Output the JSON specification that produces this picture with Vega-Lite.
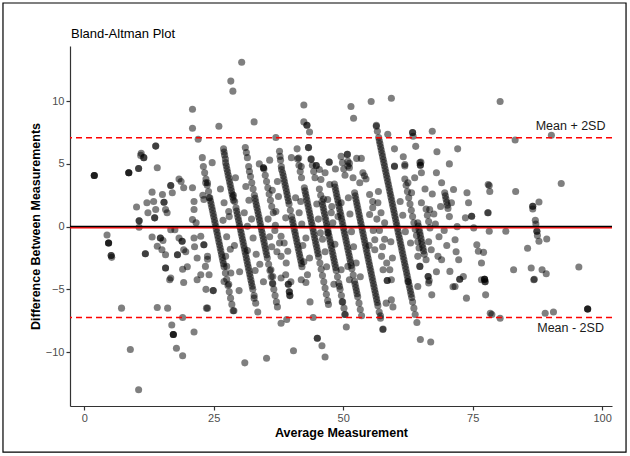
{
 "$schema": "https://vega.github.io/schema/vega-lite/v6.json",
 "width": 542,
 "height": 360,
 "autosize": {"type": "none"},
 "padding": {"left": 70, "top": 46, "right": 18, "bottom": 50},
 "background": "white",
 "title": {"text": "Bland-Altman Plot", "anchor": "start", "frame": "group", "font": "Liberation Sans", "fontSize": 13, "fontWeight": "normal", "color": "#000000", "offset": -39, "dx": 1},
 "config": {"view": {"stroke": null}, "font": "Liberation Sans"},
 "layer": [
  {
   "data": {"values": [{"name": "frame"}]},
   "mark": {"type": "rect", "fill": null, "stroke": "#000000", "strokeWidth": 1.2},
   "encoding": {
    "x": {"datum": -15.69, "type": "quantitative", "scale": {"domain": [-2.75, 101.9]}},
    "x2": {"datum": 104.61},
    "y": {"datum": 17.83, "type": "quantitative", "scale": {"domain": [-14.3, 14.4]}},
    "y2": {"datum": -17.97}
   }
  },
  {
   "data": {"values": [
{"avg":23.0,"diff":4.8},{"avg":23.25,"diff":4.3},{"avg":23.5,"diff":3.8},{"avg":23.75,"diff":3.3},{"avg":24.0,"diff":2.8},{"avg":24.25,"diff":2.3},{"avg":24.38,"diff":2.05},{"avg":24.5,"diff":1.8},{"avg":24.63,"diff":1.55},{"avg":24.75,"diff":1.3},{"avg":24.88,"diff":1.05},{"avg":25.0,"diff":0.8},{"avg":25.13,"diff":0.55},{"avg":25.25,"diff":0.3},{"avg":25.38,"diff":0.05},{"avg":25.5,"diff":-0.2},{"avg":25.63,"diff":-0.45},{"avg":25.75,"diff":-0.7},{"avg":25.88,"diff":-0.95},{"avg":26.0,"diff":-1.2},{"avg":26.13,"diff":-1.45},{"avg":26.25,"diff":-1.7},{"avg":26.38,"diff":-1.95},{"avg":26.5,"diff":-2.2},{"avg":26.63,"diff":-2.45},{"avg":26.75,"diff":-2.7},{"avg":26.88,"diff":-2.95},{"avg":27.0,"diff":-3.2},{"avg":27.25,"diff":-3.7},{"avg":27.5,"diff":-4.2},{"avg":27.75,"diff":-4.7},{"avg":28.0,"diff":-5.2},{"avg":28.25,"diff":-5.7},{"avg":28.5,"diff":-6.2},{"avg":28.75,"diff":-6.7},
{"avg":27.3,"diff":5.1},{"avg":27.43,"diff":4.85},{"avg":27.55,"diff":4.6},{"avg":27.68,"diff":4.35},{"avg":27.8,"diff":4.1},{"avg":27.93,"diff":3.85},{"avg":28.05,"diff":3.6},{"avg":28.18,"diff":3.35},{"avg":28.3,"diff":3.1},{"avg":28.43,"diff":2.85},{"avg":28.55,"diff":2.6},{"avg":28.68,"diff":2.35},{"avg":28.8,"diff":2.1},
{"avg":28.8,"diff":2.5},{"avg":29.05,"diff":2.0},{"avg":29.3,"diff":1.5},{"avg":29.43,"diff":1.25},{"avg":29.55,"diff":1.0},{"avg":29.68,"diff":0.75},{"avg":29.8,"diff":0.5},{"avg":29.93,"diff":0.25},{"avg":30.05,"diff":0.0},{"avg":30.18,"diff":-0.25},{"avg":30.3,"diff":-0.5},{"avg":30.43,"diff":-0.75},{"avg":30.55,"diff":-1.0},{"avg":30.68,"diff":-1.25},{"avg":30.8,"diff":-1.5},{"avg":30.93,"diff":-1.75},{"avg":31.05,"diff":-2.0},{"avg":31.18,"diff":-2.25},{"avg":31.3,"diff":-2.5},{"avg":31.43,"diff":-2.75},{"avg":31.55,"diff":-3.0},{"avg":31.68,"diff":-3.25},{"avg":31.8,"diff":-3.5},{"avg":31.93,"diff":-3.75},{"avg":32.05,"diff":-4.0},{"avg":32.18,"diff":-4.25},{"avg":32.3,"diff":-4.5},{"avg":32.43,"diff":-4.75},{"avg":32.55,"diff":-5.0},{"avg":32.8,"diff":-5.5},{"avg":33.1,"diff":-6.1},
{"avg":32.1,"diff":4.0},{"avg":32.35,"diff":3.5},{"avg":32.6,"diff":3.0},{"avg":32.85,"diff":2.5},{"avg":32.98,"diff":2.25},{"avg":33.1,"diff":2.0},{"avg":33.23,"diff":1.75},{"avg":33.35,"diff":1.5},{"avg":33.48,"diff":1.25},{"avg":33.6,"diff":1.0},{"avg":33.73,"diff":0.75},{"avg":33.85,"diff":0.5},{"avg":33.98,"diff":0.25},{"avg":34.1,"diff":0.0},{"avg":34.23,"diff":-0.25},{"avg":34.35,"diff":-0.5},{"avg":34.48,"diff":-0.75},{"avg":34.6,"diff":-1.0},{"avg":34.73,"diff":-1.25},{"avg":34.85,"diff":-1.5},{"avg":34.98,"diff":-1.75},{"avg":35.1,"diff":-2.0},{"avg":35.23,"diff":-2.25},{"avg":35.35,"diff":-2.5},{"avg":35.6,"diff":-3.0},{"avg":35.85,"diff":-3.5},{"avg":36.1,"diff":-4.0},{"avg":36.35,"diff":-4.5},{"avg":36.6,"diff":-5.0},{"avg":36.85,"diff":-5.5},{"avg":37.1,"diff":-6.0},{"avg":37.3,"diff":-6.4},
{"avg":34.7,"diff":4.6},{"avg":34.95,"diff":4.1},{"avg":35.2,"diff":3.6},{"avg":35.45,"diff":3.1},{"avg":35.7,"diff":2.6},{"avg":35.95,"diff":2.1},{"avg":36.2,"diff":1.6},
{"avg":38.3,"diff":4.3},{"avg":38.43,"diff":4.05},{"avg":38.55,"diff":3.8},{"avg":38.68,"diff":3.55},{"avg":38.8,"diff":3.3},{"avg":38.93,"diff":3.05},{"avg":39.05,"diff":2.8},{"avg":39.18,"diff":2.55},{"avg":39.3,"diff":2.3},{"avg":39.43,"diff":2.05},{"avg":39.55,"diff":1.8},{"avg":39.8,"diff":1.3},{"avg":40.05,"diff":0.8},{"avg":40.18,"diff":0.55},{"avg":40.3,"diff":0.3},{"avg":40.43,"diff":0.05},{"avg":40.55,"diff":-0.2},{"avg":40.68,"diff":-0.45},{"avg":40.8,"diff":-0.7},{"avg":40.93,"diff":-0.95},{"avg":41.05,"diff":-1.2},{"avg":41.18,"diff":-1.45},{"avg":41.3,"diff":-1.7},{"avg":41.43,"diff":-1.95},{"avg":41.55,"diff":-2.2},{"avg":41.68,"diff":-2.45},{"avg":41.8,"diff":-2.7},{"avg":41.93,"diff":-2.95},{"avg":42.05,"diff":-3.2},
{"avg":41.2,"diff":5.4},{"avg":41.45,"diff":4.9},{"avg":41.7,"diff":4.4},{"avg":41.95,"diff":3.9},
{"avg":42.5,"diff":3.1},{"avg":42.63,"diff":2.85},{"avg":42.75,"diff":2.6},{"avg":42.88,"diff":2.35},{"avg":43.0,"diff":2.1},{"avg":43.13,"diff":1.85},{"avg":43.25,"diff":1.6},{"avg":43.38,"diff":1.35},{"avg":43.5,"diff":1.1},{"avg":43.63,"diff":0.85},{"avg":43.75,"diff":0.6},{"avg":43.88,"diff":0.35},{"avg":44.0,"diff":0.1},{"avg":44.13,"diff":-0.15},{"avg":44.25,"diff":-0.4},{"avg":44.38,"diff":-0.65},{"avg":44.5,"diff":-0.9},{"avg":44.63,"diff":-1.15},{"avg":44.75,"diff":-1.4},{"avg":44.88,"diff":-1.65},{"avg":45.0,"diff":-1.9},{"avg":45.13,"diff":-2.15},{"avg":45.25,"diff":-2.4},{"avg":45.5,"diff":-2.9},{"avg":45.75,"diff":-3.4},{"avg":46.0,"diff":-3.9},{"avg":46.25,"diff":-4.4},{"avg":46.5,"diff":-4.9},{"avg":46.75,"diff":-5.4},{"avg":47.0,"diff":-5.9},{"avg":47.15,"diff":-6.2},
{"avg":43.8,"diff":5.4},{"avg":44.05,"diff":4.9},{"avg":44.3,"diff":4.4},{"avg":44.55,"diff":3.9},
{"avg":45.4,"diff":3.0},{"avg":45.65,"diff":2.5},{"avg":45.9,"diff":2.0},{"avg":46.03,"diff":1.75},{"avg":46.15,"diff":1.5},{"avg":46.28,"diff":1.25},{"avg":46.4,"diff":1.0},{"avg":46.53,"diff":0.75},{"avg":46.65,"diff":0.5},{"avg":46.78,"diff":0.25},{"avg":46.9,"diff":0.0},{"avg":47.03,"diff":-0.25},{"avg":47.15,"diff":-0.5},{"avg":47.28,"diff":-0.75},{"avg":47.4,"diff":-1.0},{"avg":47.53,"diff":-1.25},{"avg":47.65,"diff":-1.5},{"avg":47.78,"diff":-1.75},{"avg":47.9,"diff":-2.0},{"avg":48.03,"diff":-2.25},{"avg":48.15,"diff":-2.5},{"avg":48.28,"diff":-2.75},{"avg":48.4,"diff":-3.0},{"avg":48.53,"diff":-3.25},{"avg":48.65,"diff":-3.5},{"avg":48.9,"diff":-4.0},{"avg":49.15,"diff":-4.5},{"avg":49.28,"diff":-4.75},{"avg":49.4,"diff":-5.0},{"avg":49.65,"diff":-5.5},{"avg":49.9,"diff":-6.0},{"avg":50.15,"diff":-6.5},{"avg":50.4,"diff":-7.0},
{"avg":48.3,"diff":3.4},{"avg":48.43,"diff":3.15},{"avg":48.55,"diff":2.9},{"avg":48.68,"diff":2.65},{"avg":48.8,"diff":2.4},{"avg":48.93,"diff":2.15},{"avg":49.05,"diff":1.9},{"avg":49.18,"diff":1.65},{"avg":49.3,"diff":1.4},{"avg":49.43,"diff":1.15},{"avg":49.55,"diff":0.9},{"avg":49.68,"diff":0.65},{"avg":49.8,"diff":0.4},{"avg":49.93,"diff":0.15},{"avg":50.05,"diff":-0.1},{"avg":50.18,"diff":-0.35},{"avg":50.3,"diff":-0.6},{"avg":50.43,"diff":-0.85},{"avg":50.55,"diff":-1.1},{"avg":50.68,"diff":-1.35},{"avg":50.8,"diff":-1.6},{"avg":50.93,"diff":-1.85},{"avg":51.05,"diff":-2.1},{"avg":51.18,"diff":-2.35},{"avg":51.3,"diff":-2.6},{"avg":51.43,"diff":-2.85},{"avg":51.55,"diff":-3.1},{"avg":51.68,"diff":-3.35},{"avg":51.93,"diff":-3.85},{"avg":52.18,"diff":-4.35},{"avg":52.3,"diff":-4.6},{"avg":52.43,"diff":-4.85},{"avg":52.55,"diff":-5.1},{"avg":52.68,"diff":-5.35},{"avg":52.8,"diff":-5.6},{"avg":53.05,"diff":-6.1},{"avg":53.3,"diff":-6.6},{"avg":53.55,"diff":-7.1},
{"avg":49.6,"diff":5.6},{"avg":49.85,"diff":5.1},{"avg":50.1,"diff":4.6},{"avg":50.35,"diff":4.1},
{"avg":52.2,"diff":2.7},{"avg":52.33,"diff":2.45},{"avg":52.45,"diff":2.2},{"avg":52.58,"diff":1.95},{"avg":52.7,"diff":1.7},{"avg":52.83,"diff":1.45},{"avg":52.95,"diff":1.2},{"avg":53.08,"diff":0.95},{"avg":53.2,"diff":0.7},{"avg":53.33,"diff":0.45},{"avg":53.45,"diff":0.2},{"avg":53.58,"diff":-0.05},{"avg":53.7,"diff":-0.3},{"avg":53.83,"diff":-0.55},{"avg":53.95,"diff":-0.8},{"avg":54.08,"diff":-1.05},{"avg":54.2,"diff":-1.3},{"avg":54.33,"diff":-1.55},{"avg":54.45,"diff":-1.8},{"avg":54.58,"diff":-2.05},{"avg":54.7,"diff":-2.3},{"avg":54.83,"diff":-2.55},{"avg":54.95,"diff":-2.8},{"avg":55.08,"diff":-3.05},{"avg":55.2,"diff":-3.3},{"avg":55.33,"diff":-3.55},{"avg":55.45,"diff":-3.8},{"avg":55.58,"diff":-4.05},{"avg":55.7,"diff":-4.3},{"avg":55.83,"diff":-4.55},{"avg":55.95,"diff":-4.8},{"avg":56.08,"diff":-5.05},{"avg":56.2,"diff":-5.3},{"avg":56.33,"diff":-5.55},{"avg":56.45,"diff":-5.8},{"avg":56.58,"diff":-6.05},{"avg":56.7,"diff":-6.3},{"avg":56.95,"diff":-6.8},{"avg":57.2,"diff":-7.3},{"avg":57.65,"diff":-8.2},
{"avg":56.4,"diff":8.0},{"avg":56.6,"diff":7.6},{"avg":56.85,"diff":7.1},{"avg":56.98,"diff":6.85},{"avg":57.1,"diff":6.6},{"avg":57.23,"diff":6.35},{"avg":57.35,"diff":6.1},{"avg":57.48,"diff":5.85},{"avg":57.6,"diff":5.6},{"avg":57.73,"diff":5.35},{"avg":57.85,"diff":5.1},{"avg":57.98,"diff":4.85},{"avg":58.1,"diff":4.6},{"avg":58.23,"diff":4.35},{"avg":58.35,"diff":4.1},{"avg":58.48,"diff":3.85},{"avg":58.6,"diff":3.6},{"avg":58.73,"diff":3.35},{"avg":58.85,"diff":3.1},{"avg":58.98,"diff":2.85},{"avg":59.1,"diff":2.6},{"avg":59.23,"diff":2.35},{"avg":59.35,"diff":2.1},{"avg":59.48,"diff":1.85},{"avg":59.6,"diff":1.6},{"avg":59.73,"diff":1.35},{"avg":59.85,"diff":1.1},{"avg":59.98,"diff":0.85},{"avg":60.1,"diff":0.6},{"avg":60.23,"diff":0.35},{"avg":60.35,"diff":0.1},{"avg":60.48,"diff":-0.15},{"avg":60.6,"diff":-0.4},{"avg":60.73,"diff":-0.65},{"avg":60.85,"diff":-0.9},{"avg":60.98,"diff":-1.15},{"avg":61.1,"diff":-1.4},{"avg":61.23,"diff":-1.65},{"avg":61.35,"diff":-1.9},{"avg":61.48,"diff":-2.15},{"avg":61.6,"diff":-2.4},{"avg":61.73,"diff":-2.65},{"avg":61.85,"diff":-2.9},{"avg":61.98,"diff":-3.15},{"avg":62.1,"diff":-3.4},{"avg":62.23,"diff":-3.65},{"avg":62.35,"diff":-3.9},{"avg":62.48,"diff":-4.15},{"avg":62.6,"diff":-4.4},{"avg":62.73,"diff":-4.65},{"avg":62.85,"diff":-4.9},{"avg":62.98,"diff":-5.15},{"avg":63.1,"diff":-5.4},{"avg":63.23,"diff":-5.65},{"avg":63.4,"diff":-6.0},{"avg":63.65,"diff":-6.5},{"avg":63.9,"diff":-7.0},{"avg":64.23,"diff":-7.65},
{"avg":61.9,"diff":3.8},{"avg":62.15,"diff":3.3},{"avg":62.4,"diff":2.8},{"avg":62.65,"diff":2.3},{"avg":62.9,"diff":1.8},{"avg":63.15,"diff":1.3},{"avg":63.4,"diff":0.8},{"avg":63.65,"diff":0.3},{"avg":63.9,"diff":-0.2},{"avg":64.15,"diff":-0.7},{"avg":64.4,"diff":-1.2},{"avg":64.65,"diff":-1.7},
{"avg":64.4,"diff":0.3},{"avg":64.53,"diff":0.05},{"avg":64.65,"diff":-0.2},{"avg":64.78,"diff":-0.45},{"avg":64.9,"diff":-0.7},{"avg":65.03,"diff":-0.95},{"avg":65.15,"diff":-1.2},{"avg":65.28,"diff":-1.45},{"avg":65.4,"diff":-1.7},{"avg":65.53,"diff":-1.95},{"avg":65.65,"diff":-2.2},
{"avg":66.0,"diff":1.4},{"avg":66.25,"diff":0.9},{"avg":66.5,"diff":0.4},{"avg":66.75,"diff":-0.1},
{"avg":69.6,"diff":2.7},{"avg":69.73,"diff":2.45},{"avg":69.85,"diff":2.2},{"avg":69.98,"diff":1.95},{"avg":70.1,"diff":1.7},{"avg":70.23,"diff":1.45},
{"avg":26.9,"diff":6.2},{"avg":27.0,"diff":5.95},{"avg":27.1,"diff":5.7},{"avg":27.25,"diff":5.4},
{"avg":31.1,"diff":6.3},{"avg":31.3,"diff":5.9},{"avg":31.5,"diff":5.5},{"avg":31.75,"diff":4.8},{"avg":31.9,"diff":4.4},
{"avg":37.7,"diff":6.0},{"avg":37.8,"diff":5.6},{"avg":37.9,"diff":5.3},{"avg":38.05,"diff":4.8},{"avg":38.1,"diff":4.55},
{"avg":53.8,"diff":4.3},{"avg":54.1,"diff":4.05},{"avg":54.4,"diff":3.8},
{"avg":20.9,"diff":9.36},{"avg":20.9,"diff":7.84},{"avg":22.0,"diff":6.96},{"avg":13.8,"diff":6.42},{"avg":13.8,"diff":6.42},{"avg":11.0,"diff":5.84},
{"avg":30.4,"diff":13.1},{"avg":28.3,"diff":11.6},{"avg":28.7,"diff":10.8},{"avg":26.0,"diff":8.0},{"avg":32.8,"diff":8.35},{"avg":37.0,"diff":7.1},{"avg":42.4,"diff":9.7},{"avg":42.4,"diff":8.35},{"avg":43.0,"diff":8.08},{"avg":43.0,"diff":8.08},{"avg":43.5,"diff":7.55},{"avg":51.5,"diff":9.57},{"avg":52.0,"diff":8.64},{"avg":55.4,"diff":9.98},{"avg":59.3,"diff":10.24},{"avg":56.4,"diff":8.08},{"avg":58.6,"diff":7.36},{"avg":63.4,"diff":7.5},{"avg":63.4,"diff":7.5},{"avg":63.5,"diff":7.2},{"avg":67.2,"diff":7.6},{"avg":59.9,"diff":6.2},{"avg":64.0,"diff":6.4},{"avg":68.1,"diff":5.97},{"avg":72.1,"diff":6.2},{"avg":61.6,"diff":5.57},{"avg":61.9,"diff":4.96},{"avg":59.9,"diff":4.8},{"avg":65.0,"diff":5.14},{"avg":64.9,"diff":4.9},{"avg":64.9,"diff":4.9},{"avg":50.8,"diff":5.76},{"avg":50.8,"diff":5.76},{"avg":52.6,"diff":5.44},{"avg":53.5,"diff":5.44},{"avg":51.2,"diff":5.04},{"avg":80.3,"diff":9.98},{"avg":83.2,"diff":6.9},{"avg":90.2,"diff":7.28},
{"avg":22.8,"diff":5.5},{"avg":24.7,"diff":5.1},{"avg":34.6,"diff":4.7},{"avg":34.6,"diff":4.7},{"avg":41.1,"diff":6.2},{"avg":41.4,"diff":5.47},{"avg":41.9,"diff":4.8},{"avg":43.3,"diff":6.3},{"avg":43.3,"diff":6.3},{"avg":43.8,"diff":5.36},{"avg":44.8,"diff":4.88},{"avg":44.8,"diff":4.88},{"avg":47.3,"diff":5.14},{"avg":47.3,"diff":5.14},
{"avg":1.94,"diff":4.08},{"avg":1.94,"diff":4.08},{"avg":1.94,"diff":4.08},{"avg":8.6,"diff":4.3},{"avg":8.6,"diff":4.3},{"avg":8.6,"diff":4.3},{"avg":10.5,"diff":4.64},{"avg":10.5,"diff":4.64},{"avg":11.5,"diff":5.5},{"avg":11.5,"diff":5.5},{"avg":10.9,"diff":5.68},{"avg":14.1,"diff":4.7},{"avg":4.4,"diff":-0.67},{"avg":4.7,"diff":-1.3},{"avg":4.7,"diff":-1.3},{"avg":4.7,"diff":-1.3},{"avg":5.2,"diff":-2.3},{"avg":5.2,"diff":-2.3},{"avg":5.3,"diff":-2.45},{"avg":10.1,"diff":1.57},{"avg":10.6,"diff":0.46},{"avg":10.6,"diff":0.46},{"avg":10.6,"diff":-0.05},{"avg":11.8,"diff":-2.16},{"avg":11.8,"diff":-2.16},{"avg":13.1,"diff":2.75},{"avg":12.1,"diff":1.9},{"avg":13.4,"diff":2.0},{"avg":12.3,"diff":1.1},{"avg":13.8,"diff":1.36},{"avg":13.6,"diff":0.7},{"avg":13.6,"diff":0.7},{"avg":15.1,"diff":2.56},{"avg":15.4,"diff":1.94},{"avg":15.4,"diff":1.94},{"avg":15.7,"diff":1.36},{"avg":16.0,"diff":1.1},{"avg":16.7,"diff":3.28},{"avg":16.7,"diff":3.28},{"avg":17.0,"diff":2.7},{"avg":18.3,"diff":3.8},{"avg":18.7,"diff":3.6},{"avg":19.2,"diff":3.1},{"avg":20.9,"diff":3.1},{"avg":21.2,"diff":2.0},{"avg":21.2,"diff":1.36},{"avg":20.9,"diff":0.56},{"avg":21.6,"diff":0.3},{"avg":23.8,"diff":3.5},{"avg":24.1,"diff":2.3},{"avg":22.9,"diff":2.5},
{"avg":13.1,"diff":-0.83},{"avg":14.7,"diff":-0.9},{"avg":14.7,"diff":-0.9},{"avg":15.2,"diff":-1.1},{"avg":14.1,"diff":-1.57},{"avg":15.0,"diff":-1.84},{"avg":15.7,"diff":-2.24},{"avg":16.7,"diff":-0.24},{"avg":17.5,"diff":-0.24},{"avg":18.3,"diff":-0.9},{"avg":18.9,"diff":-1.17},{"avg":18.9,"diff":-1.17},{"avg":19.2,"diff":-1.84},{"avg":18.0,"diff":-2.24},{"avg":18.0,"diff":-2.24},{"avg":19.6,"diff":-2.0},{"avg":21.2,"diff":-0.9},{"avg":21.3,"diff":-1.6},{"avg":23.1,"diff":-1.44},{"avg":23.1,"diff":-1.44},{"avg":21.8,"diff":-2.5},{"avg":19.9,"diff":-3.2},{"avg":19.0,"diff":-3.4},{"avg":15.7,"diff":-3.3},{"avg":15.7,"diff":-3.3},{"avg":16.7,"diff":-4.1},{"avg":23.8,"diff":-2.6},{"avg":22.5,"diff":-3.84},{"avg":16.5,"diff":-4.24},{"avg":19.2,"diff":-4.45},{"avg":21.8,"diff":-4.24},{"avg":23.5,"diff":-5.0},
{"avg":7.2,"diff":-6.5},{"avg":14.1,"diff":-6.45},{"avg":16.1,"diff":-6.5},{"avg":19.0,"diff":-7.25},{"avg":23.8,"diff":-6.5},{"avg":16.9,"diff":-7.84},{"avg":17.2,"diff":-8.6},{"avg":17.2,"diff":-8.6},{"avg":17.2,"diff":-8.6},{"avg":21.2,"diff":-8.4},{"avg":17.8,"diff":-9.7},{"avg":19.0,"diff":-10.3},{"avg":8.9,"diff":-9.8},{"avg":10.5,"diff":-13.0},
{"avg":24.9,"diff":-5.1},{"avg":24.9,"diff":-5.1},{"avg":23.6,"diff":-6.5},{"avg":28.9,"diff":-6.7},{"avg":29.9,"diff":-5.1},{"avg":32.8,"diff":-5.7},{"avg":33.5,"diff":-6.8},{"avg":34.6,"diff":-4.4},{"avg":36.4,"diff":-4.56},{"avg":38.0,"diff":-7.7},{"avg":39.1,"diff":-7.4},{"avg":39.6,"diff":-5.2},{"avg":39.6,"diff":-5.2},{"avg":39.7,"diff":-5.5},{"avg":39.7,"diff":-5.5},{"avg":39.4,"diff":-4.6},{"avg":39.4,"diff":-4.6},{"avg":42.8,"diff":-4.45},{"avg":43.6,"diff":-6.0},{"avg":44.2,"diff":-7.25},{"avg":45.0,"diff":-8.9},{"avg":45.0,"diff":-8.9},{"avg":45.9,"diff":-9.5},{"avg":46.5,"diff":-10.4},{"avg":40.4,"diff":-9.9},{"avg":35.2,"diff":-10.5},{"avg":31.0,"diff":-10.86},{"avg":49.8,"diff":-6.0},{"avg":50.6,"diff":-8.0},{"avg":48.2,"diff":-4.6},
{"avg":50.3,"diff":-7.0},{"avg":57.2,"diff":-7.1},{"avg":57.7,"diff":-8.16},{"avg":58.3,"diff":-6.1},{"avg":59.3,"diff":-5.84},{"avg":59.6,"diff":-6.4},{"avg":58.5,"diff":-4.3},{"avg":58.5,"diff":-4.3},{"avg":64.9,"diff":-9.0},{"avg":66.9,"diff":-9.2},{"avg":66.5,"diff":-4.5},{"avg":67.1,"diff":-5.44},{"avg":71.2,"diff":-4.8},{"avg":73.8,"diff":-5.7},{"avg":72.5,"diff":-4.2},{"avg":72.5,"diff":-4.2},{"avg":77.4,"diff":-4.4},{"avg":77.4,"diff":-4.4},{"avg":77.5,"diff":-5.44},{"avg":78.4,"diff":-6.9},
{"avg":76.7,"diff":-4.24},{"avg":78.7,"diff":-7.0},{"avg":80.3,"diff":-7.3},{"avg":86.8,"diff":-4.24},{"avg":89.0,"diff":-6.9},{"avg":90.6,"diff":-6.8},{"avg":97.2,"diff":-6.56},{"avg":97.2,"diff":-6.56},{"avg":97.2,"diff":-6.56},
{"avg":78.2,"diff":3.28},{"avg":78.3,"diff":2.8},{"avg":83.3,"diff":2.8},{"avg":92.1,"diff":3.44},{"avg":87.8,"diff":1.97},{"avg":86.6,"diff":1.63},{"avg":86.6,"diff":1.63},{"avg":86.6,"diff":1.4},{"avg":77.9,"diff":1.1},{"avg":87.1,"diff":0.5},{"avg":87.2,"diff":0.2},{"avg":78.2,"diff":-0.37},{"avg":81.4,"diff":-0.37},{"avg":87.4,"diff":-0.37},{"avg":87.4,"diff":-0.37},{"avg":87.5,"diff":-0.7},{"avg":87.8,"diff":-1.17},{"avg":89.3,"diff":-0.99},{"avg":85.6,"diff":-1.73},{"avg":82.9,"diff":-3.44},{"avg":86.3,"diff":-3.3},{"avg":88.4,"diff":-3.44},{"avg":89.2,"diff":-3.76},{"avg":86.9,"diff":-4.2},{"avg":95.5,"diff":-3.22},{"avg":77.1,"diff":-2.05},{"avg":76.7,"diff":-2.9},{"avg":77.3,"diff":-4.2},{"avg":77.3,"diff":-4.2},{"avg":77.3,"diff":-4.2},
{"avg":23.45,"diff":3.5},{"avg":23.1,"diff":2.16},{"avg":22.5,"diff":-0.77},{"avg":23.8,"diff":-2.37},{"avg":23.4,"diff":-3.17},{"avg":24.1,"diff":-3.84},{"avg":27.3,"diff":-2.37},{"avg":27.5,"diff":-3.17},{"avg":28.3,"diff":-3.7},{"avg":27.0,"diff":-4.37},{"avg":27.9,"diff":-4.6},{"avg":30.9,"diff":1.1},{"avg":31.5,"diff":0.03},{"avg":37.0,"diff":1.2},{"avg":38.0,"diff":-0.77},{"avg":37.7,"diff":-1.3},{"avg":38.6,"diff":-1.3},{"avg":39.3,"diff":-1.97},{"avg":38.0,"diff":-2.37},{"avg":36.05,"diff":-3.44},{"avg":36.4,"diff":-3.97},{"avg":38.0,"diff":-4.1},{"avg":38.9,"diff":-3.84},{"avg":39.9,"diff":-4.4},{"avg":41.9,"diff":-4.24},{"avg":43.1,"diff":-3.84},{"avg":45.4,"diff":4.56},{"avg":45.7,"diff":3.76},{"avg":47.4,"diff":3.36},{"avg":47.0,"diff":2.16},{"avg":47.7,"diff":1.1},{"avg":47.0,"diff":-0.5},{"avg":49.6,"diff":1.9},{"avg":49.0,"diff":0.8},{"avg":50.9,"diff":5.2},{"avg":51.2,"diff":4.7},{"avg":50.9,"diff":-3.17},{"avg":49.6,"diff":-3.44},{"avg":51.2,"diff":-4.24},
{"avg":35.5,"diff":0.6},{"avg":36.8,"diff":-0.3},{"avg":31.5,"diff":-1.9},{"avg":29.0,"diff":-1.5},{"avg":28.0,"diff":0.8},{"avg":27.0,"diff":1.9},{"avg":26.3,"diff":3.0},{"avg":36.3,"diff":2.9},{"avg":37.3,"diff":3.6},{"avg":40.8,"diff":2.3},{"avg":41.5,"diff":1.1},{"avg":44.9,"diff":1.8},{"avg":42.2,"diff":-1.5},{"avg":46.0,"diff":-1.0},{"avg":38.9,"diff":0.7},{"avg":33.0,"diff":-3.5},{"avg":30.0,"diff":-3.6},{"avg":29.2,"diff":3.9},{"avg":33.8,"diff":5.0},{"avg":35.8,"diff":5.3},{"avg":40.0,"diff":5.5},{"avg":46.5,"diff":4.3},{"avg":48.5,"diff":4.6},
{"avg":50.9,"diff":4.83},{"avg":51.9,"diff":3.9},{"avg":53.2,"diff":3.5},{"avg":55.1,"diff":2.56},{"avg":55.7,"diff":2.0},{"avg":56.7,"diff":1.9},{"avg":55.7,"diff":1.5},{"avg":55.1,"diff":0.96},{"avg":56.1,"diff":-1.04},{"avg":56.1,"diff":-1.84},{"avg":57.4,"diff":-2.37},{"avg":57.7,"diff":-3.44},{"avg":59.0,"diff":-3.44},{"avg":59.3,"diff":-4.24},{"avg":59.9,"diff":4.83},{"avg":61.9,"diff":4.83},{"avg":62.5,"diff":3.5},{"avg":63.2,"diff":2.7},{"avg":64.8,"diff":5.1},{"avg":65.1,"diff":4.3},{"avg":65.1,"diff":1.9},{"avg":66.7,"diff":1.36},{"avg":64.4,"diff":-2.37},{"avg":64.8,"diff":-3.17},{"avg":64.8,"diff":-3.17},{"avg":66.0,"diff":-2.64},{"avg":67.0,"diff":-1.84},{"avg":68.3,"diff":-2.37},{"avg":69.0,"diff":-2.64},{"avg":69.0,"diff":3.5},{"avg":71.3,"diff":2.96},{"avg":70.9,"diff":1.9},{"avg":73.9,"diff":2.7},{"avg":74.2,"diff":1.9},{"avg":73.6,"diff":0.7},{"avg":74.8,"diff":0.83},{"avg":74.8,"diff":0.83},{"avg":75.2,"diff":-0.1},{"avg":71.6,"diff":-1.04},{"avg":75.8,"diff":-1.44},{"avg":76.1,"diff":-1.97},{"avg":72.3,"diff":-2.64},{"avg":70.6,"diff":-3.57},{"avg":73.2,"diff":-3.97},{"avg":71.6,"diff":-4.77},{"avg":78.0,"diff":3.36},{"avg":78.0,"diff":1.1},{"avg":66.4,"diff":-3.97},{"avg":66.4,"diff":-3.97},{"avg":66.6,"diff":-4.3},{"avg":62.5,"diff":-4.37},{"avg":64.4,"diff":-4.77},
{"avg":67.8,"diff":0.2},{"avg":68.5,"diff":-0.8},{"avg":70.0,"diff":-1.5},{"avg":72.0,"diff":0.0},{"avg":58.0,"diff":-1.0},{"avg":57.0,"diff":-0.3},{"avg":55.0,"diff":-1.5},{"avg":59.5,"diff":-2.5},{"avg":68.0,"diff":4.3},{"avg":70.5,"diff":5.0},
{"avg":26.8,"diff":0.5},{"avg":27.5,"diff":-0.8},{"avg":27.9,"diff":1.2},{"avg":28.2,"diff":-1.8},{"avg":31.8,"diff":2.1},{"avg":32.3,"diff":0.6},{"avg":32.6,"diff":-0.9},{"avg":33.2,"diff":-2.2},{"avg":33.9,"diff":-3.0},{"avg":31.2,"diff":3.2},{"avg":35.8,"diff":-0.8},{"avg":36.5,"diff":1.1},{"avg":37.2,"diff":-2.0},{"avg":36.9,"diff":0.1},{"avg":37.5,"diff":2.4},{"avg":39.0,"diff":-2.9},{"avg":36.2,"diff":-1.6},{"avg":42.0,"diff":0.2},{"avg":41.8,"diff":2.0},{"avg":42.8,"diff":-0.9},{"avg":43.5,"diff":-2.5},{"avg":42.4,"diff":-2.8},{"avg":45.2,"diff":0.6},{"avg":45.6,"diff":-0.5},{"avg":46.2,"diff":2.2},{"avg":46.5,"diff":-2.0},{"avg":46.8,"diff":-3.2},{"avg":48.0,"diff":0.3},{"avg":48.4,"diff":-1.4},{"avg":47.8,"diff":1.6},{"avg":51.3,"diff":1.0},{"avg":51.6,"diff":-0.4},{"avg":52.0,"diff":-1.6},{"avg":51.0,"diff":2.3},{"avg":52.5,"diff":-2.9},{"avg":53.3,"diff":-4.0},{"avg":55.8,"diff":-0.3},{"avg":56.5,"diff":0.6},{"avg":57.3,"diff":1.1},{"avg":58.0,"diff":0.3},{"avg":57.6,"diff":-1.6},{"avg":58.4,"diff":-2.9},{"avg":56.8,"diff":2.8},{"avg":59.2,"diff":-1.2},{"avg":61.0,"diff":2.0},{"avg":61.5,"diff":0.9},{"avg":62.0,"diff":-0.4},{"avg":63.0,"diff":-1.3},{"avg":66.5,"diff":-1.2},{"avg":67.5,"diff":1.0},{"avg":68.8,"diff":1.6},{"avg":67.2,"diff":2.6},{"avg":63.8,"diff":3.9},{"avg":65.8,"diff":3.0},{"avg":68.0,"diff":-3.6},{"avg":69.5,"diff":-0.3},{"avg":70.5,"diff":0.8},{"avg":71.8,"diff":-2.0}
   ]},
   "mark": {"type": "circle", "size": 50, "color": "#000000", "opacity": 0.5, "stroke": null},
   "encoding": {
    "x": {"field": "avg", "type": "quantitative", "scale": {"domain": [-2.75, 101.9], "nice": false, "zero": false},
     "axis": {"values": [0, 25, 50, 75, 100], "grid": false, "domainColor": "#333333", "domainWidth": 1.2, "tickColor": "#333333", "tickWidth": 1.2, "tickSize": 4, "labelColor": "#4d4d4d", "labelFontSize": 11, "labelPadding": 2, "labelFont": "Liberation Sans", "title": "Average Measurement", "titleFont": "Liberation Sans", "titleFontSize": 12.5, "titleFontWeight": "bold", "titleColor": "#000000", "titlePadding": 3}},
    "y": {"field": "diff", "type": "quantitative", "scale": {"domain": [-14.3, 14.4], "nice": false, "zero": false},
     "axis": {"values": [-10, -5, 0, 5, 10], "grid": false, "domainColor": "#333333", "domainWidth": 1.2, "tickColor": "#333333", "tickWidth": 1.2, "tickSize": 4, "labelColor": "#4d4d4d", "labelFontSize": 11, "labelPadding": 2, "labelFont": "Liberation Sans", "title": "Difference Between Measurements", "titleFont": "Liberation Sans", "titleFontSize": 12.5, "titleFontWeight": "bold", "titleColor": "#000000", "titlePadding": 3}}
   }
  },
  {
   "data": {"values": [{"limit": "Mean + 2SD", "value": 7.08}, {"limit": "Mean - 2SD", "value": -7.24}]},
   "mark": {"type": "rule", "color": "#ff0000", "strokeWidth": 1.4, "strokeDash": [6, 4]},
   "encoding": {"y": {"field": "value", "type": "quantitative"}}
  },
  {
   "data": {"values": [{"value": 0}]},
   "mark": {"type": "rule", "color": "#000000", "strokeWidth": 2},
   "encoding": {"y": {"field": "value", "type": "quantitative"}}
  },
  {
   "data": {"values": [{"value": -0.1}]},
   "mark": {"type": "rule", "color": "#ff0000", "strokeWidth": 1.2},
   "encoding": {"y": {"field": "value", "type": "quantitative"}}
  },
  {
   "data": {"values": [{"label": "Mean + 2SD", "x": 93.9, "y": 8.0}, {"label": "Mean - 2SD", "x": 93.9, "y": -8.06}]},
   "mark": {"type": "text", "font": "Liberation Sans", "fontSize": 12.5, "color": "#1a1a1a", "align": "center", "baseline": "middle"},
   "encoding": {
    "x": {"field": "x", "type": "quantitative"},
    "y": {"field": "y", "type": "quantitative"},
    "text": {"field": "label"}
   }
  }
 ]
}
